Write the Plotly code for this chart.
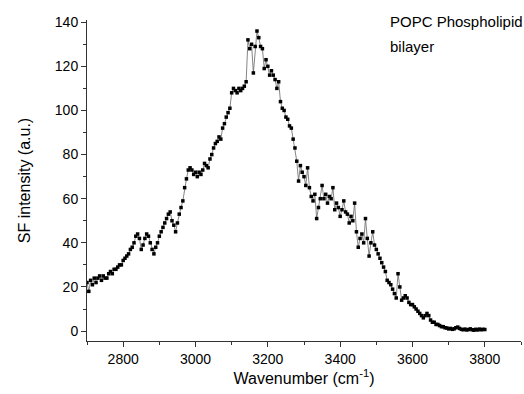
import plotly.graph_objects as go

wavenumber = list(range(2700, 3805, 5))
intensity = [
    22, 18, 23, 21, 24, 22, 24, 25, 23, 25,
    24, 24, 26, 27, 26, 28, 28, 29, 30, 30,
    32, 33, 34, 35, 37, 38, 40, 43, 44, 42,
    37, 39, 42, 44, 43, 40, 37, 35, 38, 40,
    43, 45, 47, 49, 51, 53, 54, 50, 48, 45,
    49, 53, 56, 59, 65, 69, 73, 74, 73, 71,
    72, 70, 72, 71, 73, 76, 75, 74, 78, 80,
    83, 85, 86, 88, 87, 92, 94, 97, 99, 101,
    108, 110, 109, 108, 110, 109, 110, 111, 113, 132,
    128, 130, 117, 129, 136, 133, 129, 128, 119, 123,
    120, 116, 118, 116, 114, 110, 113, 104, 101, 100,
    97, 96, 93, 92, 87, 83, 77, 68, 75, 72,
    70, 66, 74, 65, 61, 59, 62, 51, 56, 60,
    66, 60, 62, 58, 61, 60, 65, 55, 58, 56,
    52, 55, 59, 54, 53, 49, 52, 50, 58, 45,
    38, 42, 44, 40, 51, 42, 34, 40, 45, 39,
    37, 35, 33, 31, 29, 27, 23, 22, 21, 19,
    17, 15, 26, 20, 14, 15, 16, 15, 13, 12,
    12, 11, 10, 9, 8, 7, 6, 7, 8, 7,
    5, 4, 4, 3, 3, 2.5, 2, 2, 1.5, 1.4,
    1, 1.2, 0.8, 1, 1.5, 1.8, 1.2, 0.8, 0.6, 0.9,
    0.5, 0.7, 1, 0.6, 0.4, 0.8, 0.5, 0.9, 0.6, 0.8,
    0.7,
]

x_ticks = [2800, 3000, 3200, 3400, 3600, 3800]
y_ticks = [0, 20, 40, 60, 80, 100, 120, 140]

font_family = "Liberation Sans, Arial, sans-serif"

fig = go.Figure()
fig.add_trace(go.Scatter(
    x=wavenumber, y=intensity, mode="lines+markers",
    line=dict(color="#666666", width=0.8),
    marker=dict(symbol="square", size=3.5, color="black"),
    showlegend=False,
))

fig.update_layout(
    width=524, height=394,
    margin=dict(l=87, r=3, t=20, b=53),
    paper_bgcolor="white", plot_bgcolor="white",
    font=dict(family=font_family, color="black"),
)

fig.update_xaxes(
    range=[2700, 3900], tickvals=x_ticks,
    showline=True, linecolor="#333333", linewidth=1,
    ticks="outside", ticklen=5, tickcolor="#333333",
    minor=dict(ticks="outside", ticklen=3, dtick=100, tick0=2700, tickcolor="#333333"),
    showgrid=False, zeroline=False,
    tickfont=dict(size=14),
    title=dict(text="Wavenumber (cm<sup>-1</sup>)", font=dict(size=16), standoff=6),
)
fig.update_yaxes(
    range=[-4.5, 141], tickvals=y_ticks,
    showline=True, linecolor="#333333", linewidth=1,
    ticks="outside", ticklen=5, tickcolor="#333333",
    minor=dict(ticks="outside", ticklen=3, dtick=10, tick0=0, tickcolor="#333333"),
    showgrid=False, zeroline=False,
    tickfont=dict(size=14),
    title=dict(text="SF intensity (a.u.)", font=dict(size=16), standoff=20),
)

fig.add_annotation(text="POPC Phospholipid", xref="paper", yref="paper",
                   x=0.694, y=0.994, xanchor="left", yanchor="middle",
                   showarrow=False, font=dict(size=15))
fig.add_annotation(text="bilayer", xref="paper", yref="paper",
                   x=0.694, y=0.919, xanchor="left", yanchor="middle",
                   showarrow=False, font=dict(size=15))

fig.write_html("out.html")
